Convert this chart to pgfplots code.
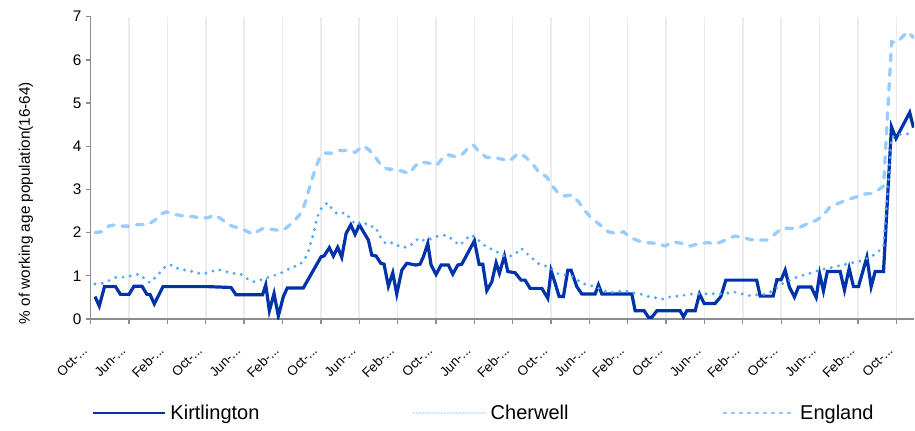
\documentclass[border=0pt]{standalone}
\usepackage{fontspec}
\setmainfont{Liberation Sans}
\usepackage{pgfplots}
\pgfplotsset{compat=1.18}
\definecolor{kirt}{RGB}{0,51,170}
\definecolor{cher}{RGB}{77,166,255}
\definecolor{eng}{RGB}{153,204,255}
\definecolor{axgrey}{RGB}{140,140,140}
\definecolor{gridgrey}{RGB}{236,236,236}
\newcommand{\tl}[1]{#1-.\kern0pt.\kern0pt.}
\begin{document}
\begin{tikzpicture}
\begin{axis}[
  scale only axis, width=617.3pt, height=226.7pt,
  xmin=0, xmax=171.7, ymin=0, ymax=7,
  axis lines*=left,
  axis line style={-, draw=axgrey, line width=1.1pt},
  tick align=outside, major tick length=3.5pt,
  tick style={draw=axgrey, line width=1pt},
  xtick={0,8,16,24,32,40,48,56,64,72,80,88,96,104,112,120,128,136,144,152,160,168},
  xticklabels={\tl{Oct},\tl{Jun},\tl{Feb},\tl{Oct},\tl{Jun},\tl{Feb},\tl{Oct},\tl{Jun},\tl{Feb},\tl{Oct},\tl{Jun},\tl{Feb},\tl{Oct},\tl{Jun},\tl{Feb},\tl{Oct},\tl{Jun},\tl{Feb},\tl{Oct},\tl{Jun},\tl{Feb},\tl{Oct}},
  ytick={0,1,2,3,4,5,6,7},
  /pgf/number format/assume math mode=true,
  yticklabel style={font=\fontsize{11.5}{13}\selectfont},
  xticklabel style={font=\fontsize{10}{12}\selectfont, yshift=-16pt, xshift=-2pt, rotate=45, anchor=east},
  xmajorgrids, grid style={draw=gridgrey, line width=1.1pt},
  legend style={draw=none, fill=none, at={(axis description cs:-0.004,-0.311)}, anchor=west,
    font=\fontsize{15}{17}\selectfont,
    /tikz/every odd column/.append style={column sep=1.5pt},
    /tikz/every even column/.append style={column sep=113pt}},
  legend columns=3,
  legend image code/.code={\draw[#1] (0pt,0pt) -- (54pt,0pt);},
]
\addplot[kirt, line width=2.4pt, line join=miter, legend image post style={line width=1.6pt}] table {
t v
0.90 0.52
1.79 0.30
2.88 0.75
5.17 0.75
6.22 0.57
7.99 0.57
9.03 0.76
10.70 0.76
11.74 0.57
12.37 0.57
13.27 0.35
15.08 0.75
24.50 0.75
29.27 0.73
30.31 0.56
35.84 0.56
36.51 0.79
37.26 0.19
38.24 0.59
39.13 0.07
40.18 0.52
41.01 0.72
44.35 0.72
48.04 1.44
48.67 1.46
49.77 1.65
50.61 1.46
51.52 1.66
52.36 1.43
53.26 1.98
54.24 2.18
55.13 1.96
56.03 2.18
56.87 2.02
57.91 1.83
58.62 1.48
59.52 1.46
60.49 1.29
61.18 1.27
62.08 0.76
63.00 1.07
63.83 0.58
64.88 1.13
65.92 1.29
67.80 1.25
68.69 1.27
69.38 1.44
70.30 1.75
70.99 1.25
72.03 1.03
73.07 1.25
74.60 1.25
75.51 1.04
76.56 1.25
77.39 1.27
80.02 1.81
81.00 1.27
81.77 1.27
82.61 0.66
83.65 0.86
84.55 1.30
85.24 1.06
86.28 1.46
86.99 1.10
88.51 1.07
89.76 0.90
90.60 0.90
91.64 0.71
94.08 0.71
95.33 0.48
96.02 1.12
96.86 0.83
97.69 0.52
98.59 0.52
99.50 1.13
100.19 1.13
101.38 0.75
102.42 0.58
105.20 0.58
105.89 0.79
106.60 0.58
112.85 0.58
113.55 0.19
115.42 0.19
116.32 0.04
117.03 0.04
118.07 0.19
122.93 0.19
123.62 0.05
124.33 0.19
126.06 0.19
126.96 0.58
127.94 0.36
130.23 0.36
131.42 0.52
132.46 0.90
138.89 0.90
139.62 0.53
142.33 0.53
143.10 0.91
144.00 0.91
144.83 1.13
145.71 0.74
146.77 0.51
147.61 0.74
150.25 0.74
151.30 0.50
152.03 1.04
152.82 0.65
153.63 1.10
156.30 1.10
157.20 0.67
158.18 1.17
159.08 0.75
160.12 0.75
161.87 1.43
162.77 0.75
163.60 1.10
165.34 1.10
167.00 4.45
167.94 4.18
170.80 4.78
171.60 4.43
};
\addlegendentry{Kirtlington}
\addplot[cher, line width=2.4pt, line cap=round, dash pattern=on 0pt off 5.5pt,
  legend image post style={line width=0.9pt, dash pattern=on 0.9pt off 1.4pt, opacity=0.3}] table {
t v
0.90 0.81
2.63 0.83
4.03 0.90
5.42 0.97
7.01 0.97
8.55 1.00
10.08 1.04
11.18 0.94
12.37 0.84
13.56 0.97
14.66 1.10
15.71 1.23
17.02 1.25
18.48 1.15
20.03 1.13
21.61 1.09
23.15 1.04
24.74 1.08
26.41 1.15
28.02 1.10
29.62 1.06
31.29 1.04
32.67 0.93
34.17 0.86
35.80 0.92
37.40 0.98
38.92 1.03
40.39 1.10
41.93 1.20
43.51 1.25
44.56 1.37
45.27 1.52
45.75 1.71
46.23 1.89
46.64 2.06
47.00 2.25
47.48 2.42
48.19 2.58
49.36 2.69
50.27 2.56
51.44 2.43
53.05 2.46
54.09 2.33
55.34 2.18
56.86 2.25
58.11 2.14
59.31 2.14
60.56 1.87
61.60 1.74
63.12 1.77
64.52 1.67
65.92 1.66
67.29 1.75
68.34 1.87
69.73 1.81
71.26 1.87
72.65 1.93
74.11 1.94
75.51 1.84
76.83 1.71
78.08 1.81
78.97 1.94
80.02 1.91
81.56 1.75
82.94 1.64
84.19 1.60
85.59 1.48
87.11 1.44
88.51 1.50
89.76 1.64
90.80 1.53
91.99 1.42
93.24 1.29
94.77 1.23
96.29 1.15
97.54 1.04
99.29 1.02
100.67 0.97
102.07 0.86
103.46 0.79
105.20 0.75
106.60 0.67
108.18 0.61
109.72 0.63
111.31 0.66
112.85 0.61
114.58 0.58
116.32 0.52
117.92 0.49
119.44 0.46
120.99 0.52
122.57 0.53
124.33 0.56
125.91 0.59
127.67 0.58
129.19 0.59
130.80 0.58
132.46 0.59
134.05 0.63
135.65 0.59
137.17 0.54
138.92 0.56
140.65 0.57
142.39 0.66
144.14 0.81
145.66 0.89
147.27 0.97
149.00 1.03
150.40 1.07
151.92 1.13
153.53 1.17
155.26 1.21
156.66 1.25
158.39 1.29
160.12 1.33
161.52 1.38
163.25 1.48
164.65 1.60
165.34 1.68
167.00 4.20
168.14 4.26
169.87 4.30
171.60 4.25
};
\addlegendentry{Cherwell}
\addplot[eng, line width=2.5pt, line cap=round, dash pattern=on 5pt off 6pt,
  legend image post style={line width=1.2pt, line cap=butt, dash pattern=on 3.5pt off 2.5pt}] table {
t v
0.90 2.00
2.29 2.02
3.67 2.15
5.07 2.18
6.47 2.15
8.20 2.15
9.93 2.19
12.02 2.19
13.41 2.29
14.66 2.43
15.85 2.48
17.59 2.42
19.67 2.38
21.40 2.37
23.15 2.33
24.53 2.35
25.93 2.41
27.33 2.31
28.70 2.18
30.46 2.12
32.04 2.06
33.92 1.96
34.63 2.02
36.00 2.10
37.40 2.08
38.80 2.06
40.18 2.06
41.22 2.15
42.62 2.29
44.02 2.48
44.91 2.75
45.75 3.10
46.79 3.45
47.69 3.72
48.88 3.84
50.27 3.84
51.86 3.90
53.40 3.90
55.13 3.86
56.86 4.01
58.11 3.91
59.31 3.76
60.70 3.53
62.08 3.47
63.69 3.47
65.21 3.41
66.46 3.37
67.65 3.54
68.69 3.64
71.13 3.60
72.18 3.56
73.35 3.72
74.60 3.80
75.99 3.76
77.39 3.80
78.64 3.95
79.81 4.03
81.21 3.84
82.61 3.74
84.19 3.74
85.73 3.70
87.41 3.66
89.20 3.84
90.60 3.76
92.12 3.60
93.37 3.41
95.12 3.29
96.16 3.10
97.54 2.91
98.93 2.85
100.33 2.87
101.71 2.72
103.10 2.50
104.50 2.33
106.23 2.18
107.97 2.02
109.72 1.98
111.10 2.02
112.49 1.89
114.23 1.81
115.98 1.77
118.07 1.75
119.80 1.69
121.53 1.79
123.28 1.75
125.01 1.69
126.75 1.74
128.50 1.77
130.23 1.74
131.63 1.79
133.02 1.87
134.41 1.92
136.11 1.89
137.54 1.84
138.92 1.83
141.01 1.83
142.39 1.94
144.14 2.10
145.88 2.10
147.61 2.11
149.36 2.20
151.45 2.29
152.82 2.41
154.22 2.60
155.95 2.68
158.04 2.77
159.79 2.83
161.16 2.89
162.91 2.91
164.29 2.99
165.34 3.08
167.04 6.42
168.08 6.39
170.27 6.65
171.60 6.52
};
\addlegendentry{England}
\coordinate (sw) at (rel axis cs:0,0);
\coordinate (ne) at (rel axis cs:1,1);
\end{axis}
\node[rotate=90, anchor=center, font=\fontsize{11.5}{13}\selectfont] at ([shift={(-48.5pt,87pt)}]sw) {\% of working age population(16-64)};
\pgfresetboundingbox
\path[use as bounding box] ([shift={(-68pt,-83.25pt)}]sw) rectangle ([shift={(0.75pt,12.5pt)}]ne);
\end{tikzpicture}
\end{document}
